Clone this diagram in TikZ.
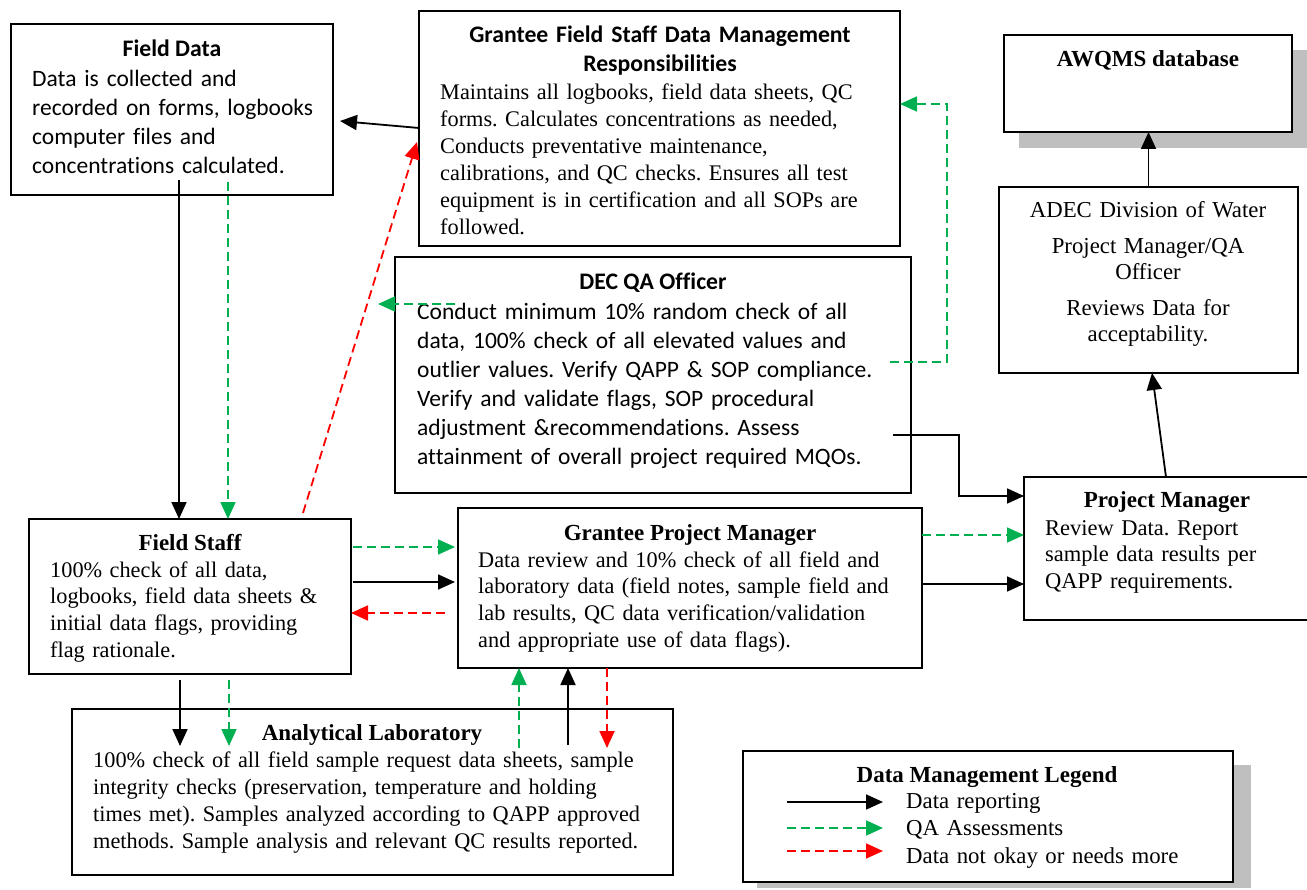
\documentclass[tikz,border=0pt]{standalone}
\usepackage{fontspec}
\setmainfont{Liberation Serif}
\newfontfamily\calfont[Ligatures=NoCommon]{Carlito}
\usetikzlibrary{calc,arrows.meta}
\definecolor{qagreen}{HTML}{00B050}
\definecolor{nogred}{HTML}{FF0000}
\definecolor{shadowgray}{HTML}{BFBFBF}
\frenchspacing
\begin{document}
\begin{tikzpicture}[x=1pt,y=-1pt,
  box/.style={draw, line width=2pt, inner sep=0pt, outer sep=0pt, anchor=north west, fill=white},
  arr/.style={line width=1.8pt, -{Triangle[length=17pt,width=15pt]}},
  dataarr/.style={arr, black},
  qaarr/.style={arr, qagreen, dash pattern=on 9pt off 5pt},
  noarr/.style={arr, nogred, dash pattern=on 9pt off 5pt},
  caltitle/.style={anchor=base, inner sep=0pt, font=\calfont\bfseries\fontsize{23.7}{29}\selectfont},
  calbody/.style={anchor=base west, align=left, text width=560pt, inner sep=0pt, font=\calfont\fontsize{23.5}{29}\selectfont},
  sertitle/.style={anchor=base, inner sep=0pt, font=\bfseries\fontsize{23}{27}\selectfont},
  serbody/.style={anchor=base west, align=left, text width=600pt, inner sep=0pt, font=\fontsize{22.3}{27}\selectfont},
]
\useasboundingbox (0,0) rectangle (1307,890);

% shadows
\fill[shadowgray] (1019,50) rectangle (1307,148);
\fill[shadowgray] (757,765) rectangle (1251,888);

% boxes
\node[box, minimum width=322pt, minimum height=171pt] (fd) at (11,24) {};
\node[box, minimum width=481pt, minimum height=235pt] (gfs) at (419,11) {};
\node[box, minimum width=288pt, minimum height=97pt] (awq) at (1004,35) {};
\node[box, minimum width=299pt, minimum height=186pt] (adec) at (999,187) {};
\node[box, minimum width=516pt, minimum height=236pt] (dec) at (395,257) {};
\node[box, minimum width=290pt, minimum height=143pt] (pm) at (1024,477) {};
\node[box, minimum width=322pt, minimum height=155pt] (fs) at (29,519) {};
\node[box, minimum width=464pt, minimum height=160pt] (gpm) at (458,508) {};
\node[box, minimum width=601pt, minimum height=166pt] (lab) at (72,709) {};
\node[box, minimum width=490pt, minimum height=131pt] (leg) at (743,751) {};

% texts
\node[caltitle] (fdt) at (172,57) {Field Data};
\node[calbody] (fdx) at (32,87) {Data is collected and\\recorded on forms, logbooks\\computer files and\\concentrations calculated.};

\node[caltitle, align=center, text width=470pt] (gfst) at (660,43) {Grantee Field Staff Data Management\\Responsibilities};
\node[serbody] (gfsx) at (440,100) {Maintains all logbooks, field data sheets, QC\\forms. Calculates concentrations as needed,\\Conducts preventative maintenance,\\calibrations, and QC checks. Ensures all test\\equipment is in certification and all SOPs are\\followed.};

\node[sertitle] (awqt) at (1148,67) {AWQMS database};

\node[anchor=base, align=center, text width=290pt, inner sep=0pt, font=\fontsize{22.8}{26.5}\selectfont] (adecx) at (1148,218) {ADEC Division of Water\\[9pt]Project Manager/QA\\Officer\\[9pt]Reviews Data for\\acceptability.};

\node[caltitle] (dect) at (653,290) {DEC QA Officer};
\node[calbody] (decx) at (417,320) {Conduct minimum 10\% random check of all\\data, 100\% check of all elevated values and\\outlier values. Verify QAPP \& SOP compliance.\\Verify and validate flags, SOP procedural\\adjustment \&recommendations. Assess\\attainment of overall project required MQOs.};

\node[sertitle] (fst) at (190,550) {Field Staff};
\node[serbody, font=\fontsize{22.3}{26.7}\selectfont] (fsx) at (50,577) {100\% check of all data,\\logbooks, field data sheets \&\\initial data flags, providing\\flag rationale.};

\node[sertitle] (gpmt) at (690,540) {Grantee Project Manager};
\node[serbody, font=\fontsize{22.3}{26.7}\selectfont] (gpmx) at (478,567) {Data review and 10\% check of all field and\\laboratory data (field notes, sample field and\\lab results, QC data verification/validation\\and appropriate use of data flags).};

\node[sertitle] (pmt) at (1167,507) {Project Manager};
\node[serbody, font=\fontsize{22.5}{26.5}\selectfont] (pmx) at (1045,535) {Review Data. Report\\sample data results per\\QAPP requirements.};

\node[sertitle] (labt) at (372,740) {Analytical Laboratory};
\node[serbody, font=\fontsize{22.3}{27.3}\selectfont] (labx) at (93,767) {100\% check of all field sample request data sheets, sample\\integrity checks (preservation, temperature and holding\\times met). Samples analyzed according to QAPP approved\\methods. Sample analysis and relevant QC results reported.};

\node[sertitle] (legt) at (987,782) {Data Management Legend};
\node[serbody, font=\fontsize{22.8}{27.5}\selectfont] (legx) at (906,808) {Data reporting\\QA Assessments\\Data not okay or needs more};

% connectors
\draw[dataarr] ($(gfs.north west)+(0,117)$) -- ($(fd.north east)+(7,97)$);

\coordinate (fdA) at ($(fd.north west)+(168,156)$);
\coordinate (fdB) at ($(fd.north west)+(217,158)$);
\draw[dataarr] (fdA) -- (fdA |- fs.north);
\draw[qaarr] (fdB) -- (fdB |- fs.north);

\draw[noarr] ($(fs.north west)+(274,-6)$) -- ($(gfs.north west)+(-2,131)$);

\coordinate (decG) at ($(dec.north west)+(60,47)$);
\coordinate (decGend) at ($(decG)+(-77,0)$);
\draw[qaarr] (decG) -- (decGend);

\draw[qaarr] ($(dec.north west)+(495,105)$) -| ($(gfs.north east)+(47,93)$) -- ($(gfs.north east)+(0,93)$);

\draw[dataarr] ($(dec.north west)+(498,178)$) -- ++(66,0) |- ($(pm.north west)+(0,19)$);

\coordinate (fsG) at ($(fs.north east)+(2,28)$);
\draw[qaarr] (fsG) -- ($(fsG -| gpm.west)+(-3,0)$);
\coordinate (fsK) at ($(fs.north east)+(2,63)$);
\draw[dataarr] (fsK) -- ($(fsK -| gpm.west)+(-3,0)$);
\coordinate (gpmR) at ($(gpm.north west)+(-13,105)$);
\draw[noarr] (gpmR) -- (gpmR -| fs.east);

\coordinate (gpmG) at ($(gpm.north east)+(0,27)$);
\draw[qaarr] (gpmG) -- (gpmG -| pm.west);
\coordinate (gpmK) at ($(gpm.north east)+(0,76)$);
\draw[dataarr] (gpmK) -- (gpmK -| pm.west);

\draw[dataarr] ($(pm.north west)+(142,0)$) -- ($(adec.south west)+(153,0)$);
\draw[dataarr] (adec.north) -- (adec.north |- awq.south);

\coordinate (fsA) at ($(fs.south west)+(151,6)$);
\coordinate (fsB) at ($(fs.south west)+(200,6)$);
\coordinate (labA) at ($(fsA)+(0,66)$);
\coordinate (labB) at ($(fsB)+(0,66)$);
\draw[dataarr] (fsA) -- (labA);
\draw[qaarr] (fsB) -- (labB);

\coordinate (labG) at ($(lab.north west)+(447,39)$);
\coordinate (labK) at ($(lab.north west)+(496,36)$);
\draw[qaarr] (labG) -- (labG |- gpm.south);
\draw[dataarr] (labK) -- (labK |- gpm.south);
\coordinate (gpmD) at ($(gpm.south west)+(149,0)$);
\coordinate (labR) at ($(gpmD)+(0,80)$);
\draw[noarr] (gpmD) -- (labR);

% legend samples
\coordinate (l1) at ($(leg.north west)+(44,51)$);
\coordinate (l2) at ($(leg.north west)+(44,77)$);
\coordinate (l3) at ($(leg.north west)+(44,100)$);
\draw[dataarr] (l1) -- ++(96,0);
\draw[qaarr] (l2) -- ++(96,0);
\draw[noarr] (l3) -- ++(96,0);
\end{tikzpicture}
\end{document}
